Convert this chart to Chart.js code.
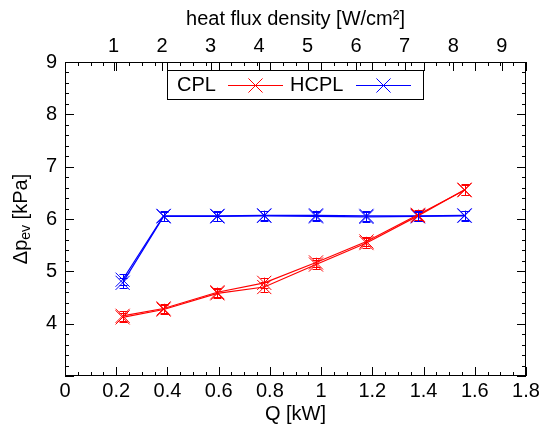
<!DOCTYPE html>
<html>
<head>
<meta charset="utf-8">
<script src="https://cdn.jsdelivr.net/npm/chart.js@4"></script>
<style>
html, body { margin: 0; padding: 0; background: #fff; }
</style>
</head>
<body>
<canvas id="myChart" width="544" height="428"></canvas>
<script>
// heat load Q [kW] of each measuring point
const powerKW = [0.225, 0.385, 0.595, 0.778, 0.98, 1.177, 1.378, 1.56];

// evaporator pressure drop [kPa], two runs per loop
const cplRun1 = [4.12, 4.27, 4.58, 4.70, 5.13, 5.54, 6.06, 6.56];
const cplRun2 = [4.15, 4.29, 4.60, 4.78, 5.17, 5.57, 6.08, 6.55];
const hcplRun1 = [4.78, 6.05, 6.05, 6.06, 6.05, 6.04, 6.05, 6.06];
const hcplRun2 = [4.84, 6.06, 6.06, 6.07, 6.07, 6.06, 6.06, 6.07];
const cplErr = [0.09, 0.09, 0.09, 0.1, 0.09, 0.09, 0.1, 0.1];
const hcplErr = [0.1, 0.09, 0.09, 0.09, 0.09, 0.09, 0.09, 0.09];

// axis ticks
const xTicks = [0, 0.2, 0.4, 0.6, 0.8, 1, 1.2, 1.4, 1.6, 1.8];
const x2Ticks = [1, 2, 3, 4, 5, 6, 7, 8, 9];
const yTicks = [3, 4, 5, 6, 7, 8, 9];
const xMinorStep = 0.05;
const yMinorStep = 0.2;

const fontFamily = "'Liberation Sans', Arial, sans-serif";
Chart.defaults.font.family = fontFamily;
Chart.defaults.font.size = 20;
Chart.defaults.color = '#000';

function makeDataset(label, ys, errs, color) {
    return {
        label: label,
        data: powerKW.map((q, i) => ({ x: q, y: ys[i] })),
        errors: errs,
        borderColor: color,
        backgroundColor: color,
        borderWidth: 1.2,
        pointStyle: 'crossRot',
        pointRadius: 10,
        pointBorderWidth: 1,
        fill: false,
        tension: 0
    };
}

const errorBars = {
    id: 'errorBars',
    afterDatasetsDraw(chart) {
        const ctx = chart.ctx;
        const ys = chart.scales.y;
        ctx.save();
        ctx.lineWidth = 1;
        chart.data.datasets.forEach((ds, di) => {
            const meta = chart.getDatasetMeta(di);
            ctx.strokeStyle = ds.borderColor;
            ctx.beginPath();
            meta.data.forEach((pt, i) => {
                const v = ds.data[i].y;
                const top = ys.getPixelForValue(v + ds.errors[i]);
                const bot = ys.getPixelForValue(v - ds.errors[i]);
                const x = Math.round(pt.x) + 0.5;
                ctx.moveTo(x, top); ctx.lineTo(x, bot);
                ctx.moveTo(x - 4, Math.round(top) + 0.5); ctx.lineTo(x + 4, Math.round(top) + 0.5);
                ctx.moveTo(x - 4, Math.round(bot) + 0.5); ctx.lineTo(x + 4, Math.round(bot) + 0.5);
            });
            ctx.stroke();
        });
        ctx.restore();
    }
};

const frame = {
    id: 'frame',
    afterDraw(chart) {
        const { ctx, chartArea: a, scales } = chart;
        ctx.save();
        ctx.strokeStyle = '#000';
        ctx.lineWidth = 1;
        ctx.strokeRect(a.left + 0.5, a.top + 0.5, a.right - a.left - 1, a.bottom - a.top - 1);
        ctx.beginPath();
        const vtick = (v, len, both) => {
            const px = Math.round(scales.x.getPixelForValue(v)) + 0.5;
            ctx.moveTo(px, a.bottom); ctx.lineTo(px, a.bottom - len);
            if (both) { ctx.moveTo(px, a.top); ctx.lineTo(px, a.top + len); }
        };
        const htick = (v, len) => {
            const py = Math.round(scales.y.getPixelForValue(v)) + 0.5;
            ctx.moveTo(a.left, py); ctx.lineTo(a.left + len, py);
            ctx.moveTo(a.right, py); ctx.lineTo(a.right - len, py);
        };
        for (let v = 0; v <= 1.8 + 1e-9; v += xMinorStep) vtick(v, 4, true);
        xTicks.forEach(v => vtick(v, 9, true));
        for (let v = 3; v <= 9 + 1e-9; v += yMinorStep) htick(v, 4);
        yTicks.forEach(v => htick(v, 9));
        x2Ticks.forEach(v => {
            const px = Math.round(scales.x2.getPixelForValue(v)) + 0.5;
            ctx.moveTo(px, a.top); ctx.lineTo(px, a.top + 9);
        });
        ctx.stroke();

        // y axis title with subscript
        ctx.translate(21, (a.top + a.bottom) / 2);
        ctx.rotate(-Math.PI / 2);
        ctx.fillStyle = '#000';
        ctx.textBaseline = 'middle';
        const big = '20px ' + fontFamily, small = '14px ' + fontFamily;
        ctx.font = big;
        const w1 = ctx.measureText('\u0394p').width;
        const w3 = ctx.measureText(' [kPa]').width;
        ctx.font = small;
        const w2 = ctx.measureText('ev').width;
        let x = -(w1 + w2 + w3) / 2;
        ctx.font = big; ctx.fillText('\u0394p', x, 0); x += w1;
        ctx.font = small; ctx.fillText('ev', x, 5); x += w2;
        ctx.font = big; ctx.fillText(' [kPa]', x, 0);
        ctx.restore();

        // key box
        ctx.save();
        ctx.strokeStyle = '#000';
        ctx.lineWidth = 1;
        ctx.strokeRect(167.5, 70.5, 256, 29);
        ctx.font = big;
        ctx.fillStyle = '#000';
        ctx.textBaseline = 'middle';
        const keys = [
            { ds: 0, tx: 177, x0: 228, x1: 283 },
            { ds: 2, tx: 290, x0: 356, x1: 411 }
        ];
        keys.forEach(k => {
            const ds = chart.data.datasets[k.ds];
            ctx.fillText(ds.label, k.tx, 85);
            ctx.strokeStyle = ds.borderColor;
            ctx.beginPath();
            ctx.moveTo(k.x0, 85.5); ctx.lineTo(k.x1, 85.5);
            ctx.stroke();
            Chart.helpers.drawPoint(ctx, { pointStyle: 'crossRot', radius: 10, borderWidth: 1 }, (k.x0 + k.x1) / 2, 85.5);
        });
        ctx.restore();
    }
};

const chart = new Chart(document.getElementById('myChart'), {
    type: 'line',
    data: {
        datasets: [
            makeDataset('CPL', cplRun1, cplErr, '#ff0000'),
            makeDataset('CPL', cplRun2, cplErr, '#ff0000'),
            makeDataset('HCPL', hcplRun1, hcplErr, '#0000ff'),
            makeDataset('HCPL', hcplRun2, hcplErr, '#0000ff')
        ]
    },
    options: {
        responsive: false,
        animation: false,
        layout: { padding: { left: 0, right: 18, top: 0, bottom: 0 } },
        plugins: {
            legend: { display: false },
            tooltip: { enabled: false }
        },
        scales: {
            x: {
                type: 'linear',
                position: 'bottom',
                min: 0,
                max: 1.8,
                afterBuildTicks: s => { s.ticks = xTicks.map(v => ({ value: v })); },
                afterFit: s => { s.height = 52; },
                grid: { display: false, drawTicks: false },
                border: { display: false },
                ticks: { padding: 3, maxRotation: 0, callback: v => String(+v.toFixed(2)) },
                title: { display: true, text: 'Q [kW]', padding: { top: 0, bottom: 2 } }
            },
            x2: {
                type: 'linear',
                position: 'top',
                min: 0,
                max: 9.5,
                afterBuildTicks: s => { s.ticks = x2Ticks.map(v => ({ value: v })); },
                afterFit: s => { s.height = 62; },
                grid: { display: false, drawTicks: false },
                border: { display: false },
                ticks: { padding: 4, maxRotation: 0, callback: v => String(v) },
                title: { display: true, text: 'heat flux density [W/cm\u00b2]', padding: { top: 7, bottom: 0 } }
            },
            y: {
                type: 'linear',
                min: 3,
                max: 9,
                afterBuildTicks: s => { s.ticks = yTicks.map(v => ({ value: v })); },
                afterFit: s => { s.width = 65; },
                grid: { display: false, drawTicks: false },
                border: { display: false },
                ticks: { padding: 8, callback: v => v === 3 ? '' : String(v) }
            }
        }
    },
    plugins: [errorBars, frame]
});
</script>
</body>
</html>
